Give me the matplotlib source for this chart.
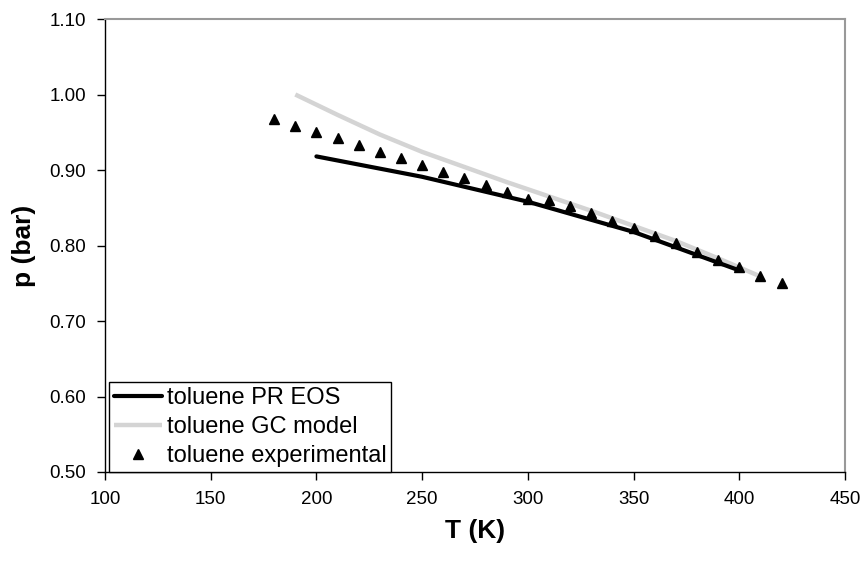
import matplotlib
matplotlib.use("Agg")
import matplotlib.pyplot as plt
from matplotlib.ticker import FixedLocator, FormatStrFormatter

plt.rcParams['font.family'] = ['Liberation Sans', 'DejaVu Sans']

# PR EOS model
T_pr = [200, 250, 300, 350, 400]
p_pr = [0.918, 0.891, 0.858, 0.818, 0.767]

# GC model
T_gc = [190, 210, 230, 250, 270, 290, 310, 330, 350, 370, 390, 410]
p_gc = [1.000, 0.973, 0.947, 0.924, 0.904, 0.884, 0.865, 0.846, 0.826, 0.806, 0.783, 0.759]

# experimental
T_exp = [180, 190, 200, 210, 220, 230, 240, 250, 260, 270, 280, 290, 300,
         310, 320, 330, 340, 350, 360, 370, 380, 390, 400, 410, 420]
p_exp = [0.967, 0.958, 0.950, 0.942, 0.933, 0.924, 0.916, 0.907, 0.898, 0.889,
         0.880, 0.871, 0.861, 0.860, 0.852, 0.843, 0.833, 0.823, 0.813, 0.803,
         0.792, 0.781, 0.771, 0.760, 0.750]

x_ticks = [100, 150, 200, 250, 300, 350, 400, 450]
y_ticks = [0.50, 0.60, 0.70, 0.80, 0.90, 1.00, 1.10]

fig = plt.figure(figsize=(8.62, 5.61), dpi=100)
ax = fig.add_axes([105/862, 89/561, 740/862, 453/561])

ax.plot(T_pr, p_pr, color='black', lw=3.0, solid_capstyle='round', label='toluene PR EOS', zorder=3)
ax.plot(T_gc, p_gc, color='#d4d4d4', lw=3.2, solid_capstyle='butt', label='toluene GC model', zorder=2)
ax.plot(T_exp, p_exp, linestyle='none', marker='^', markersize=6.6, color='black',
        label='toluene experimental', zorder=4)

ax.set_xlim(100, 450)
ax.set_ylim(0.5, 1.1)
ax.xaxis.set_major_locator(FixedLocator(x_ticks))
ax.yaxis.set_major_locator(FixedLocator(y_ticks))
ax.yaxis.set_major_formatter(FormatStrFormatter('%.2f'))
ax.tick_params(axis='both', direction='out', length=5.5, width=1, color='black',
               labelsize=13.5, pad=8)

for s in ['left', 'bottom']:
    ax.spines[s].set_color('black')
    ax.spines[s].set_linewidth(1.0)
for s in ['top', 'right']:
    ax.spines[s].set_color('#999999')
    ax.spines[s].set_linewidth(1.5)

ax.set_xlabel('T (K)', fontsize=19, fontweight='bold', labelpad=8)
ax.set_ylabel('p (bar)', fontsize=19, fontweight='bold', labelpad=10)

leg = ax.legend(loc='lower left', bbox_to_anchor=(4/740, 0.0), borderaxespad=0,
                fontsize=17, frameon=True, fancybox=False, shadow=False,
                edgecolor='black', framealpha=1, numpoints=1,
                handlelength=2.05, handletextpad=0.2, borderpad=0.2,
                labelspacing=0.3)
leg.get_frame().set_linewidth(1.0)

fig.savefig('out.png', dpi=100)
